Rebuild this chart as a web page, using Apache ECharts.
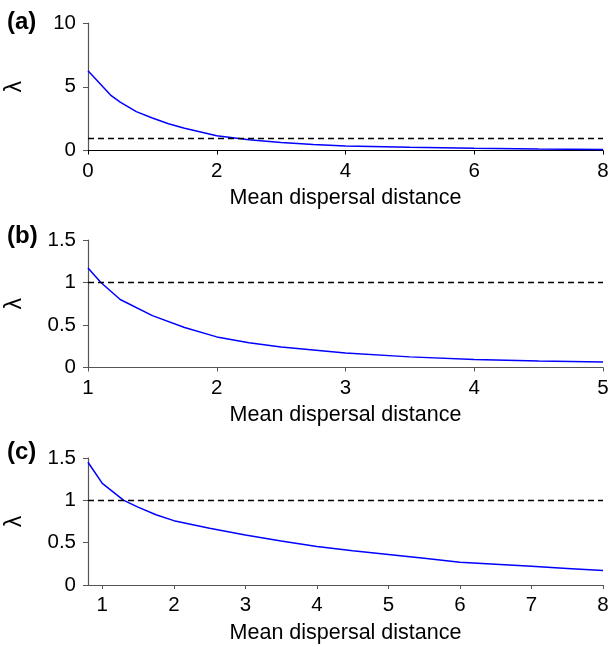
<!DOCTYPE html>
<html>
<head>
<meta charset="utf-8">
<script src="https://cdn.jsdelivr.net/npm/echarts@6/dist/echarts.min.js"></script>
<style>
  html, body { margin: 0; padding: 0; background: #fff; }
  #chart { width: 608px; height: 647px; }
</style>
</head>
<body>
<div id="chart"></div>
<script>
// panel (a)
var distA = [0, 0.35, 0.5, 0.75, 1, 1.25, 1.5, 1.75, 2, 2.5, 3, 3.5, 4, 5, 6, 7, 8];
var lambdaA = [6.25, 4.35, 3.8, 3.05, 2.55, 2.1, 1.75, 1.45, 1.15, 0.85, 0.62, 0.47, 0.36, 0.25, 0.17, 0.11, 0.07];
// panel (b)
var distB = [1, 1.1, 1.25, 1.5, 1.75, 2, 2.25, 2.5, 3, 3.5, 4, 4.5, 5];
var lambdaB = [1.17, 1.0, 0.8, 0.61, 0.47, 0.36, 0.29, 0.24, 0.17, 0.125, 0.095, 0.077, 0.064];
// panel (c)
var distC = [0.8, 1.0, 1.3, 1.5, 1.75, 2, 2.5, 3, 3.5, 4, 4.5, 5, 5.5, 6, 6.5, 7, 7.5, 8];
var lambdaC = [1.45, 1.2, 1.0, 0.92, 0.83, 0.76, 0.67, 0.59, 0.52, 0.455, 0.405, 0.36, 0.315, 0.27, 0.245, 0.22, 0.195, 0.17];
var ticksC = [1, 2, 3, 4, 5, 6, 7, 8];

var threshold = 1;
var panelLabels = ['(a)', '(b)', '(c)'];
var xName = 'Mean dispersal distance';
var yName = '\u03bb';

var font = '"Liberation Sans", Arial, Helvetica, sans-serif';
var tops = [23, 240, 458];
var labelY = [22.5, 236.5, 452];

function pairs(xs, ys) {
  return xs.map(function (x, i) { return [x, ys[i]]; });
}

function xAxisFor(i, min, max, interval, axisColor) {
  var ax = {
    type: 'value',
    gridIndex: i,
    min: min,
    max: max,
    name: xName,
    nameLocation: 'middle',
    nameGap: 37,
    nameTextStyle: { fontSize: 21.5, color: '#000', fontFamily: font },
    axisLine: { show: true, onZero: false, lineStyle: { color: axisColor, width: 1.2 } },
    axisTick: { show: true, inside: false, length: 4, lineStyle: { color: axisColor } },
    axisLabel: { fontSize: 20.5, color: '#000', fontFamily: font, margin: 10 },
    splitLine: { show: false }
  };
  if (interval) ax.interval = interval;
  return ax;
}

function yAxisFor(i, max, interval) {
  return {
    type: 'value',
    gridIndex: i,
    min: 0,
    max: max,
    interval: interval,
    name: yName,
    nameLocation: 'middle',
    nameGap: 62,
    nameTextStyle: { fontSize: 23, color: '#000', fontFamily: font },
    axisLine: { show: true, lineStyle: { color: '#555', width: 1.2 } },
    axisTick: { show: true, inside: false, length: 5, lineStyle: { color: '#555' } },
    axisLabel: { fontSize: 20.5, color: '#000', fontFamily: font, margin: 12 },
    splitLine: { show: false }
  };
}

function curve(i, data) {
  return {
    type: 'line',
    xAxisIndex: i,
    yAxisIndex: i,
    data: data,
    showSymbol: false,
    smooth: false,
    lineStyle: { color: '#0000ff', width: 1.5 },
    silent: true,
    markLine: {
      silent: true,
      symbol: 'none',
      label: { show: false },
      lineStyle: { color: '#000', type: [6, 4], width: 1.3 },
      data: [{ yAxis: threshold }]
    }
  };
}

var xc = xAxisFor(2, 0.8, 8, null, '#555');
xc.axisLabel.customValues = ticksC;
xc.axisTick.customValues = ticksC;

var chart = echarts.init(document.getElementById('chart'));

var option = {
  animation: false,
  backgroundColor: '#fff',
  grid: [
    { left: 88, right: 5, top: tops[0], height: 127.5, outerBoundsMode: 'none', containLabel: false },
    { left: 88, right: 5, top: tops[1], height: 127.5, outerBoundsMode: 'none', containLabel: false },
    { left: 88, right: 5, top: tops[2], height: 127, outerBoundsMode: 'none', containLabel: false }
  ],
  xAxis: [
    xAxisFor(0, 0, 8, 2, '#000'),
    xAxisFor(1, 1, 5, 1, '#555'),
    xc
  ],
  yAxis: [
    yAxisFor(0, 10, 5),
    yAxisFor(1, 1.5, 0.5),
    yAxisFor(2, 1.5, 0.5)
  ],
  graphic: panelLabels.map(function (t, i) {
    return {
      type: 'text',
      x: 7,
      y: labelY[i],
      style: { text: t, fill: '#000', font: 'bold 24px ' + font, verticalAlign: 'middle' }
    };
  }),
  series: [
    curve(0, pairs(distA, lambdaA)),
    curve(1, pairs(distB, lambdaB)),
    curve(2, pairs(distC, lambdaC))
  ]
};

chart.setOption(option);
window.addEventListener('resize', function () {
  chart.resize();
});
</script>
</body>
</html>
